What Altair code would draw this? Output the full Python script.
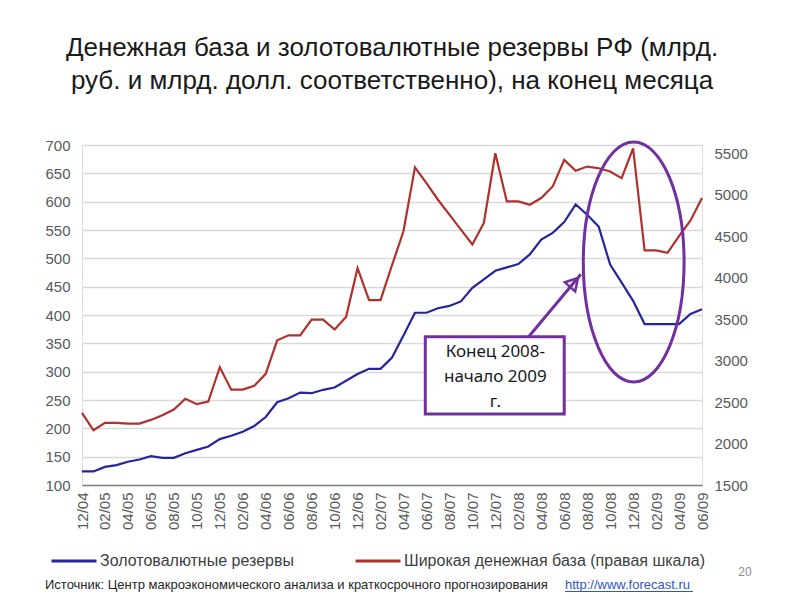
import altair as alt
import pandas as pd

months = ["12/04",
          "01/05", "02/05", "03/05", "04/05", "05/05", "06/05", "07/05", "08/05", "09/05", "10/05", "11/05", "12/05",
          "01/06", "02/06", "03/06", "04/06", "05/06", "06/06", "07/06", "08/06", "09/06", "10/06", "11/06", "12/06",
          "01/07", "02/07", "03/07", "04/07", "05/07", "06/07", "07/07", "08/07", "09/07", "10/07", "11/07", "12/07",
          "01/08", "02/08", "03/08", "04/08", "05/08", "06/08", "07/08", "08/08", "09/08", "10/08", "11/08", "12/08",
          "01/09", "02/09", "03/09", "04/09", "05/09", "06/09"]

# Золотовалютные резервы, млрд. долл. (левая шкала)
reserves = [124, 124, 132, 135, 141, 145, 151, 148, 148, 156, 162, 168, 181,
            187, 194, 204, 220, 246, 253, 263, 262, 268, 272, 284, 296,
            305, 305, 325, 364, 404, 404, 412, 416, 424, 448, 463, 478,
            484, 490, 507, 533, 545, 564, 595, 577, 556, 489, 457, 425,
            384, 384, 384, 384, 402, 410]

# Широкая денежная база, млрд. руб. (правая шкала)
base = [2370, 2160, 2250, 2250, 2240, 2240, 2285, 2340, 2410, 2540, 2475, 2505, 2920,
        2650, 2650, 2695, 2840, 3245, 3305, 3305, 3495, 3495, 3375, 3525, 4115,
        3730, 3730, 4150, 4560, 5330, 5140, 4940, 4760, 4580, 4400, 4660, 5500,
        4920, 4920, 4880, 4960, 5100, 5420, 5290, 5340, 5320, 5280, 5200, 5560,
        4330, 4330, 4300, 4500, 4690, 4960]

series_names = ["Золотовалютные резервы", "Широкая денежная база (правая шкала)"]
series_colors = ["#25259E", "#B0302C"]

left_ticks = list(range(100, 701, 50))
right_ticks = list(range(1500, 5501, 500))
x_ticks = list(range(0, len(months), 2))

title_lines = ["Денежная база и золотовалютные резервы РФ (млрд.",
               "руб. и млрд. долл. соответственно), на конец месяца"]
note_text = "Конец 2008-\nначало 2009\nг."
source_text = "Источник: Центр макроэкономического анализа и краткосрочного прогнозирования"
source_url = "http://www.forecast.ru"
page_no = "20"

PURPLE = "#7030A0"
LABEL_COLOR = "#595959"
FONT = "Liberation Sans"

rows = []
for i, mth in enumerate(months):
    rows.append({"m": i, "month": mth, "value": reserves[i], "series": series_names[0]})
    rows.append({"m": i, "month": mth, "value": base[i], "series": series_names[1]})
df = pd.DataFrame(rows)

label_expr = "[" + ",".join("'" + s + "'" for s in months) + "][datum.value]"
XMAX = len(months) - 1


def xenc(field):
    return alt.X(f"{field}:Q",
                 scale=alt.Scale(domain=[0, XMAX], nice=False, zero=False),
                 axis=alt.Axis(values=x_ticks, labelExpr=label_expr, labelAngle=270,
                               grid=False, ticks=False, domain=True, domainColor="#808080",
                               domainWidth=1.5, labelFontSize=15, labelColor=LABEL_COLOR,
                               labelFont=FONT, labelPadding=7, title=None, labelOverlap=False),
                 title=None)


def yleft_scale():
    return alt.Scale(domain=[100, 700], nice=False, zero=False)


color = alt.Color("series:N",
                  scale=alt.Scale(domain=series_names, range=series_colors),
                  legend=alt.Legend(orient="none", legendX=-32, legendY=392, direction="horizontal",
                                    title=None, symbolType="stroke", symbolSize=2025,
                                    symbolStrokeWidth=3, labelFontSize=16, labelFont=FONT,
                                    labelColor="#404040", labelLimit=600, columnPadding=55,
                                    labelOffset=2, padding=0))

base_chart = alt.Chart(df)

line_res = base_chart.transform_filter(alt.datum.series == series_names[0]).mark_line(strokeWidth=2.2).encode(
    x=xenc("m"),
    y=alt.Y("value:Q", scale=yleft_scale(),
            axis=alt.Axis(values=left_ticks, orient="left", grid=True, gridColor="#D9D9D9",
                          gridWidth=1.5, domain=False, ticks=False, labelPadding=12,
                          labelFontSize=15, labelColor=LABEL_COLOR, labelFont=FONT, title=None)),
    color=color,
)

line_base = base_chart.transform_filter(alt.datum.series == series_names[1]).mark_line(strokeWidth=2.2).encode(
    x=xenc("m"),
    y=alt.Y("value:Q", scale=alt.Scale(domain=[1500, 5600], nice=False, zero=False),
            axis=alt.Axis(values=right_ticks, orient="right", grid=False, domain=False, ticks=False,
                          labelPadding=12, labelFontSize=15, labelColor=LABEL_COLOR, format="d",
                          labelFont=FONT, title=None)),
    color=color,
)

# annotation geometry in data units (month index, left-scale value)
box_df = pd.DataFrame({"x": [29.9], "x2": [42.0], "y": [361.7], "y2": [225.3]})
note_df = pd.DataFrame({"x": [36.0], "y": [334.5], "t": [note_text]})
arrow_df = pd.DataFrame({"x": [38.9], "x2": [43.45], "y": [361.7], "y2": [472.0]})
head_df = pd.DataFrame({"x": [42.85], "y": [457.5]})
ell_df = pd.DataFrame({"x": [48.05], "y": [493.5]})


def yann(field="y"):
    return alt.Y(f"{field}:Q", scale=yleft_scale(), axis=None)


arrow = alt.Chart(arrow_df).mark_rule(color=PURPLE, strokeWidth=3).encode(
    x=xenc("x"), x2="x2:Q", y=yann(), y2="y2:Q")

head = alt.Chart(head_df).mark_point(shape="triangle-up", size=190, filled=False, opacity=1,
                                     stroke=PURPLE, strokeWidth=2.5, angle=41.5).encode(
    x=xenc("x"), y=yann())

box = alt.Chart(box_df).mark_rect(fill="white", stroke=PURPLE, strokeWidth=3).encode(
    x=xenc("x"), x2="x2:Q", y=yann(), y2="y2:Q")

note = alt.Chart(note_df).mark_text(font="Noto Sans", fontSize=17, lineBreak="\n", lineHeight=25,
                                    color="#1A1A1A", align="center", baseline="middle").encode(
    x=xenc("x"), y=yann(), text="t:N")

ellipse_path = "M -0.42 0 A 0.42 1 0 1 0 0.42 0 A 0.42 1 0 1 0 -0.42 0 Z"
ellipse = alt.Chart(ell_df).mark_point(shape=ellipse_path, size=57600, filled=False, opacity=1,
                                       stroke=PURPLE, strokeWidth=3).encode(
    x=xenc("x"), y=yann())

foot_df = pd.DataFrame({"k": [0]})
source = alt.Chart(foot_df).mark_text(font=FONT, fontSize=13, color="#262626", align="left",
                                      baseline="alphabetic").encode(
    x=alt.value(-37), y=alt.value(444), text=alt.value(source_text))
url = alt.Chart(foot_df).mark_text(font=FONT, fontSize=13, color="#2F55C8", align="left",
                                   baseline="alphabetic").encode(
    x=alt.value(483), y=alt.value(444), text=alt.value(source_url))
url_line = alt.Chart(foot_df).mark_rule(color="#2F55C8", strokeWidth=1).encode(
    x=alt.value(483), x2=alt.value(611), y=alt.value(446.5))
page = alt.Chart(foot_df).mark_text(font=FONT, fontSize=12, color="#8C8C8C", align="center",
                                    baseline="middle").encode(
    x=alt.value(663), y=alt.value(427), text=alt.value(page_no))

chart = alt.layer(
    line_res, line_base, arrow, box, note, head, ellipse, source, url, url_line, page
).resolve_scale(
    y="independent"
).properties(
    width=620, height=340,
    autosize=alt.AutoSizeParams(type="none"),
    padding={"left": 74, "top": 137, "right": 80, "bottom": 107},
    title=alt.TitleParams(text=title_lines, fontSize=26, font=FONT, fontWeight="normal",
                          color="#1A1A1A", anchor="middle", offset=42, lineHeight=33),
).configure_view(stroke=None).configure(background="white")

chart.save("out.html", embed_options={"renderer": "svg", "actions": False})
